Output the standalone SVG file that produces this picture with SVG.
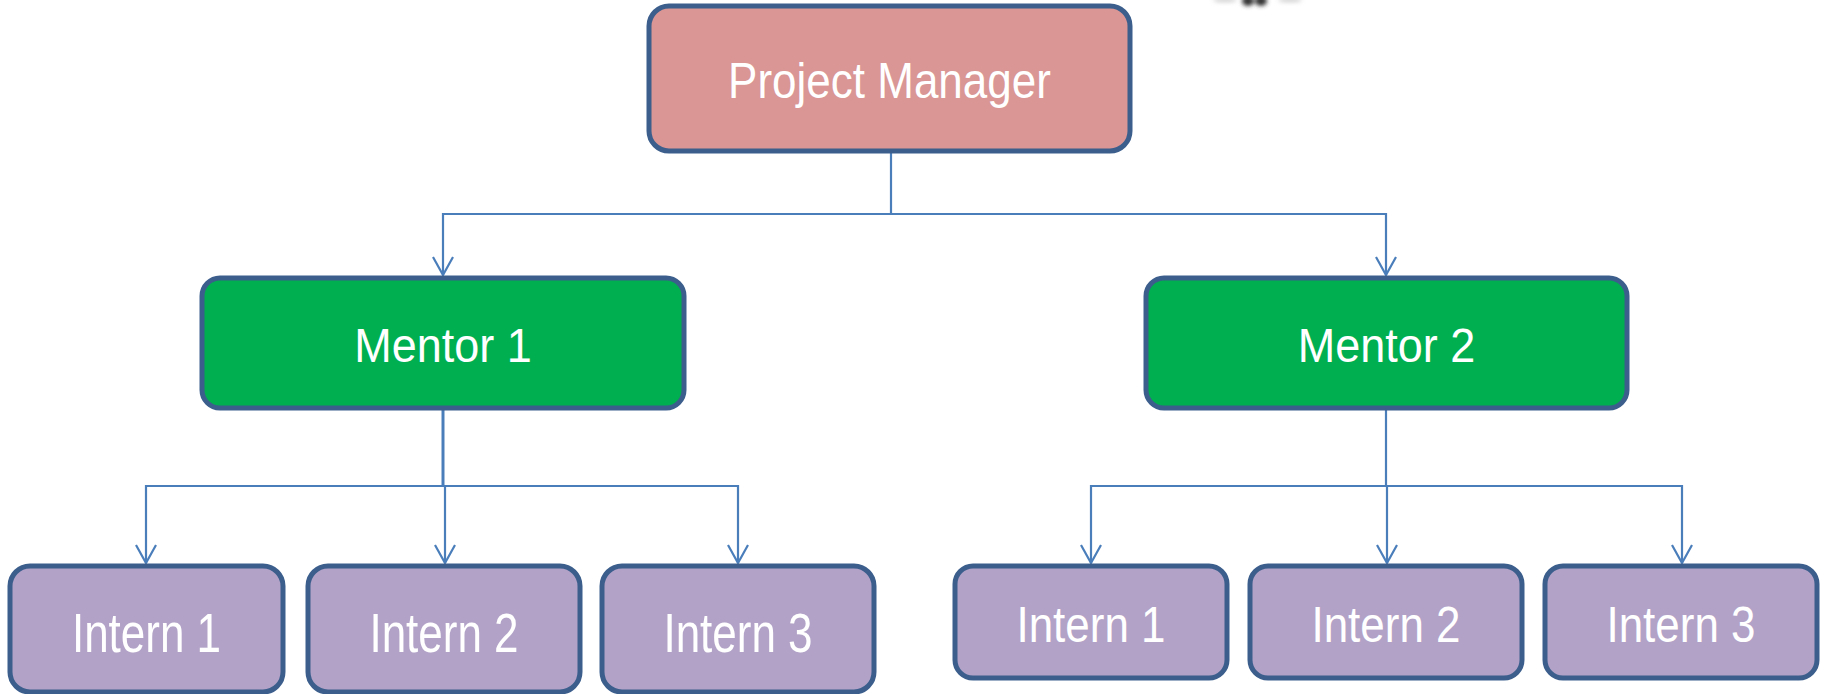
<svg xmlns="http://www.w3.org/2000/svg" width="1823" height="694" viewBox="0 0 1823 694">
<style>
.box{stroke:#3b5e8c;stroke-width:5}
.pm{fill:#d99694}
.mentor{fill:#00b050}
.intern{fill:#b2a2c7}
.lbl{fill:#ffffff;font-family:"Liberation Sans",Arial,sans-serif;font-size:44px;text-anchor:middle}
.conn{fill:none;stroke:#4a7ebb;stroke-width:2.2}
</style>
<defs>
<marker id="arr" viewBox="0 0 20 22" refX="19" refY="11" markerWidth="20" markerHeight="22" markerUnits="userSpaceOnUse" orient="auto">
<path d="M1,1 L19,11 L1,21" fill="none" stroke="#4a7ebb" stroke-width="2.2"/>
</marker>
<filter id="blur" x="-50%" y="-50%" width="200%" height="200%"><feGaussianBlur stdDeviation="2"/></filter>
</defs>
<rect width="1823" height="694" fill="#ffffff"/>
<g id="smudge" filter="url(#blur)">
<ellipse cx="1248" cy="1" rx="6" ry="5" fill="#333"/>
<ellipse cx="1261" cy="1" rx="6" ry="5" fill="#333"/>
<ellipse cx="1225" cy="0" rx="12" ry="2" fill="#ccc"/>
<ellipse cx="1290" cy="0" rx="12" ry="2" fill="#ccc"/>
</g>
<g id="connectors">
<path class="conn" d="M891,153 V214 H443 V275" marker-end="url(#arr)"/>
<path class="conn" d="M891,214 H1386 V275" marker-end="url(#arr)"/>
<path class="conn" d="M443,410 V486" style="stroke-width:3"/>
<path class="conn" d="M443,486 H146 V563" marker-end="url(#arr)"/>
<path class="conn" d="M443,486 H738 V563" marker-end="url(#arr)"/>
<path class="conn" d="M445,486 V563" marker-end="url(#arr)"/>
<path class="conn" d="M1386,410 V486"/>
<path class="conn" d="M1386,486 H1091 V563" marker-end="url(#arr)"/>
<path class="conn" d="M1386,486 H1682 V563" marker-end="url(#arr)"/>
<path class="conn" d="M1387,486 V563" marker-end="url(#arr)"/>
</g>
<g id="project-manager">
<rect class="box pm" x="649" y="6" width="481" height="145" rx="20"/>
<text class="lbl" transform="translate(889.5,98) scale(1,1.14)">Project Manager</text>
</g>
<g id="mentor-1">
<rect class="box mentor" x="202" y="278" width="482" height="130" rx="18"/>
<text class="lbl" transform="translate(443,362) scale(1,1.06)" style="font-size:45px">Mentor 1</text>
</g>
<g id="mentor-2">
<rect class="box mentor" x="1146" y="278" width="481" height="130" rx="18"/>
<text class="lbl" transform="translate(1386.5,362) scale(1,1.06)" style="font-size:45px">Mentor 2</text>
</g>
<g id="intern-1a">
<rect class="box intern" x="10" y="566" width="273" height="126" rx="20"/>
<text class="lbl" transform="translate(146.5,652) scale(1,1.25)">Intern 1</text>
</g>
<g id="intern-2a">
<rect class="box intern" x="308" y="566" width="272" height="126" rx="20"/>
<text class="lbl" transform="translate(444,652) scale(1,1.25)">Intern 2</text>
</g>
<g id="intern-3a">
<rect class="box intern" x="602" y="566" width="272" height="126" rx="20"/>
<text class="lbl" transform="translate(738,652) scale(1,1.25)">Intern 3</text>
</g>
<g id="intern-1b">
<rect class="box intern" x="955" y="566" width="272" height="112" rx="18"/>
<text class="lbl" transform="translate(1091,642) scale(1,1.12)">Intern 1</text>
</g>
<g id="intern-2b">
<rect class="box intern" x="1250" y="566" width="272" height="112" rx="18"/>
<text class="lbl" transform="translate(1386,642) scale(1,1.12)">Intern 2</text>
</g>
<g id="intern-3b">
<rect class="box intern" x="1545" y="566" width="272" height="112" rx="18"/>
<text class="lbl" transform="translate(1681,642) scale(1,1.12)">Intern 3</text>
</g>
</svg>
